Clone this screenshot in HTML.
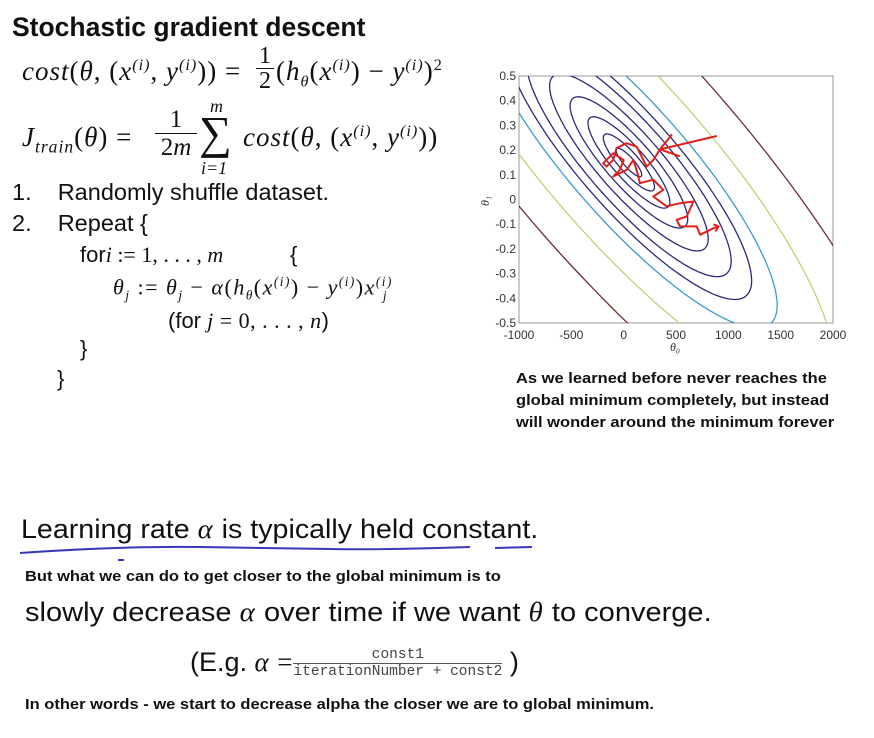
<!DOCTYPE html>
<html><head><meta charset="utf-8">
<style>
body{margin:0;width:874px;height:738px;background:#fff;position:relative;overflow:hidden;font-family:"Liberation Sans",sans-serif;color:#111}
.a{position:absolute;white-space:nowrap}
.m{font-family:"Liberation Serif",serif;font-style:italic;letter-spacing:1px}
.r{font-family:"Liberation Serif",serif;font-style:normal}
.b15{font-weight:bold;font-size:15px;transform-origin:0 0;transform:scaleX(1.1)}
.frac{display:inline-block;vertical-align:middle;text-align:center}
.frac span{display:block}
sup{font-size:60%}
</style></head><body>
<div class="a" style="left:12px;top:12px;font-size:26.5px;font-weight:bold">Stochastic gradient descent</div>

<div class="a m" style="left:22px;top:56px;font-size:27px">cost<span class="r">(</span>θ<span class="r">, (</span>x<sup>(i)</sup><span class="r">,</span> y<sup>(i)</sup><span class="r">)) =</span></div>
<div class="a r" style="left:256px;top:44px;font-size:24px;text-align:center;width:18px;line-height:24px"><div style="border-bottom:1px solid #111">1</div><div>2</div></div>
<div class="a m" style="left:276px;top:56px;font-size:27px"><span class="r">(</span>h<sub style="font-size:60%">θ</sub><span class="r">(</span>x<sup>(i)</sup><span class="r">) − </span>y<sup>(i)</sup><span class="r">)<sup>2</sup></span></div>

<div class="a r" style="left:210px;top:96px;font-size:18px;font-style:italic">m</div>
<div class="a m" style="left:22px;top:122px;font-size:27px">J<sub style="font-size:65%">train</sub><span class="r">(</span>θ<span class="r">) =</span></div>
<div class="a r" style="left:155px;top:106px;font-size:25px;text-align:center;width:42px;line-height:27px"><div style="border-bottom:1px solid #111">1</div><div>2<i>m</i></div></div>
<div class="a r" style="left:199px;top:108px;font-size:46px;line-height:50px">∑</div>
<div class="a m" style="left:243px;top:122px;font-size:27px">cost<span class="r">(</span>θ<span class="r">, (</span>x<sup>(i)</sup><span class="r">,</span> y<sup>(i)</sup><span class="r">))</span></div>
<div class="a r" style="left:201px;top:158px;font-size:18px;font-style:italic">i=1</div>

<div class="a" style="left:12px;top:179px;font-size:23.5px">1.&nbsp;&nbsp;&nbsp; Randomly shuffle dataset.</div>
<div class="a" style="left:12px;top:210px;font-size:23.5px">2.&nbsp;&nbsp;&nbsp; Repeat {</div>
<div class="a" style="left:80px;top:242px;font-size:22px">for<span class="r"><i>i</i> := 1, . . . , <i>m</i></span><span style="position:absolute;left:210px">{</span></div>
<div class="a m" style="left:113px;top:274px;font-size:22px;letter-spacing:1.5px">θ<sub style="font-size:60%">j</sub><span class="r"> := </span>θ<sub style="font-size:60%">j</sub><span class="r"> − </span>α<span class="r">(</span>h<sub style="font-size:60%">θ</sub><span class="r">(</span>x<sup>(i)</sup><span class="r">) − </span>y<sup>(i)</sup><span class="r">)</span>x<sup>(i)</sup><sub style="font-size:60%;margin-left:-10px">j</sub></div>
<div class="a" style="left:168px;top:308px;font-size:22px">(for <span class="r" style="letter-spacing:0.5px"><i>j</i> = 0, . . . , <i>n</i></span>)</div>
<div class="a" style="left:80px;top:336px;font-size:22px">}</div>
<div class="a" style="left:57px;top:366px;font-size:22px">}</div>

<svg class="a" style="left:0;top:0" width="874" height="738" id="chart">
<defs><clipPath id="pc"><rect x="519" y="76" width="314" height="247"/></clipPath></defs>
</svg>

<div class="a b15" style="left:516px;top:368px;line-height:22px">As we learned before never reaches the<br>global minimum completely, but instead<br>will wonder around the minimum forever</div>

<div class="a" style="left:21px;top:514px;font-size:27px;transform-origin:0 0;transform:scaleX(1.06)">Learning rate <span class="m">α</span> is typically held constant.</div>
<svg class="a" style="left:0;top:0" width="874" height="738"><path d="M20 553 Q120 546 200 547 T330 549 T470 547 M495 548 L532 547" stroke="#3a3ab8" stroke-width="2" fill="none"/><path d="M118 560 L124 560" stroke="#3a3ab8" stroke-width="2"/></svg>
<div class="a b15" style="left:25px;top:568px">But what we can do to get closer to the global minimum is to</div>
<div class="a" style="left:25px;top:597px;font-size:27px;transform-origin:0 0;transform:scaleX(1.075)">slowly decrease <span class="m">α</span> over time if we want <span class="m">θ</span> to converge.</div>
<div class="a" style="left:190px;top:647px;font-size:27px">(E.g. <span class="m">α</span> <span class="r">=</span><span class="frac" style="font-family:'Liberation Mono',monospace;font-size:14.5px;color:#444;margin-left:1px"><span style="border-bottom:1px solid #555;line-height:16px">const1</span><span style="line-height:16px">iterationNumber + const2</span></span> )</div>
<div class="a b15" style="left:25px;top:696px">In other words - we start to decrease alpha the closer we are to global minimum.</div>

<script>
const xTicks=[-1000,-500,0,500,1000,1500,2000];
const yTicks=[0.5,0.4,0.3,0.2,0.1,0,-0.1,-0.2,-0.3,-0.4,-0.5];
const costLevels=[25,100,256,529,961,1600,2304,3364,6400,12544];
const levelColors=["#2a2a7a","#2a2a7a","#2a2a7a","#2a2a7a","#2a2a7a","#2a2a7a","#2a2a7a","#3d9ad0","#b5d67a","#6b2f2f"];
const minimum=[50,0.15];
const pathT0=[890,347,283,219,124,28,-68,-100,-164,-196,-100,0,-36,-100,28,92,124,155,283,379,283,411,538,666,602,507,538,698,730,858,906];
const pathT1=[0.257,0.203,0.160,0.133,0.214,0.228,0.208,0.160,0.133,0.147,0.187,0.160,0.120,0.093,0.120,0.160,0.120,0.066,0.080,0.039,0.012,-0.028,-0.015,-0.008,-0.069,-0.082,-0.109,-0.109,-0.143,-0.116,-0.109];
const X0=519,X1=833,Y0=76,Y1=323;
const sx=v=>X0+(v+1000)/3000*(X1-X0);
const sy=v=>Y1-(v+0.5)/1*(Y1-Y0);
const svg=document.getElementById('chart');
const NS='http://www.w3.org/2000/svg';
function mk(t,a){const e=document.createElementNS(NS,t);for(const k in a)e.setAttribute(k,a[k]);svg.appendChild(e);return e;}
const frame=mk('rect',{x:X0,y:Y0,width:X1-X0,height:Y1-Y0,fill:'none',stroke:'#999','stroke-width':1});


const cx=sx(minimum[0]),cy=sy(minimum[1]);
const u=[0.66,0.75],w=[0.75,-0.66];
costLevels.forEach((c,i)=>{
  const b=Math.sqrt(c),a=b/0.27;let d='';
  for(let k=0;k<=120;k++){const t=k/120*2*Math.PI;const px=cx+a*Math.cos(t)*u[0]+b*Math.sin(t)*w[0];const py=cy+a*Math.cos(t)*u[1]+b*Math.sin(t)*w[1];d+=(k?'L':'M')+px.toFixed(1)+' '+py.toFixed(1);}
  const p=mk('path',{d:d,fill:'none',stroke:levelColors[i],'stroke-width':1.3,'clip-path':'url(#pc)'});
  
  
});
let pd='';pathT0.forEach((v,i)=>{pd+=(i?'L':'M')+sx(v).toFixed(1)+' '+sy(pathT1[i]).toFixed(1);});
const sgd=mk('path',{d:pd,fill:'none',stroke:'#e0201a','stroke-width':2,'stroke-linejoin':'round'});


const hx=sx(pathT0[1]),hy=sy(pathT1[1]);
const ah=mk('path',{d:`M${hx+12} ${hy-15}L${hx} ${hy}L${hx+20} ${hy+7}`,fill:'none',stroke:'#e0201a','stroke-width':2});


const ex=sx(pathT0[pathT0.length-1]),ey=sy(pathT1[pathT1.length-1]);
const ah2=mk('path',{d:`M${ex-5} ${ey-2}L${ex} ${ey}L${ex-3} ${ey+5}`,fill:'none',stroke:'#e0201a','stroke-width':2});


xTicks.forEach(v=>{const t=mk('text',{x:sx(v),y:Y1+16,'font-size':12,'text-anchor':'middle',fill:'#333','font-family':'Liberation Sans'});t.textContent=v;

});
yTicks.forEach(v=>{const t=mk('text',{x:X0-3,y:sy(v)+4,'font-size':12,'text-anchor':'end',fill:'#333','font-family':'Liberation Sans'});t.textContent=v;

});
const xl=mk('text',{x:670,y:351,'font-size':12,'font-style':'italic','font-family':'Liberation Serif',fill:'#333'});xl.textContent='θ₀';


const yl=mk('text',{x:0,y:0,'font-size':12,'font-style':'italic','font-family':'Liberation Serif',fill:'#333',transform:'translate(489,206) rotate(-90)'});yl.textContent='θ₁';


</script>
</body></html>
